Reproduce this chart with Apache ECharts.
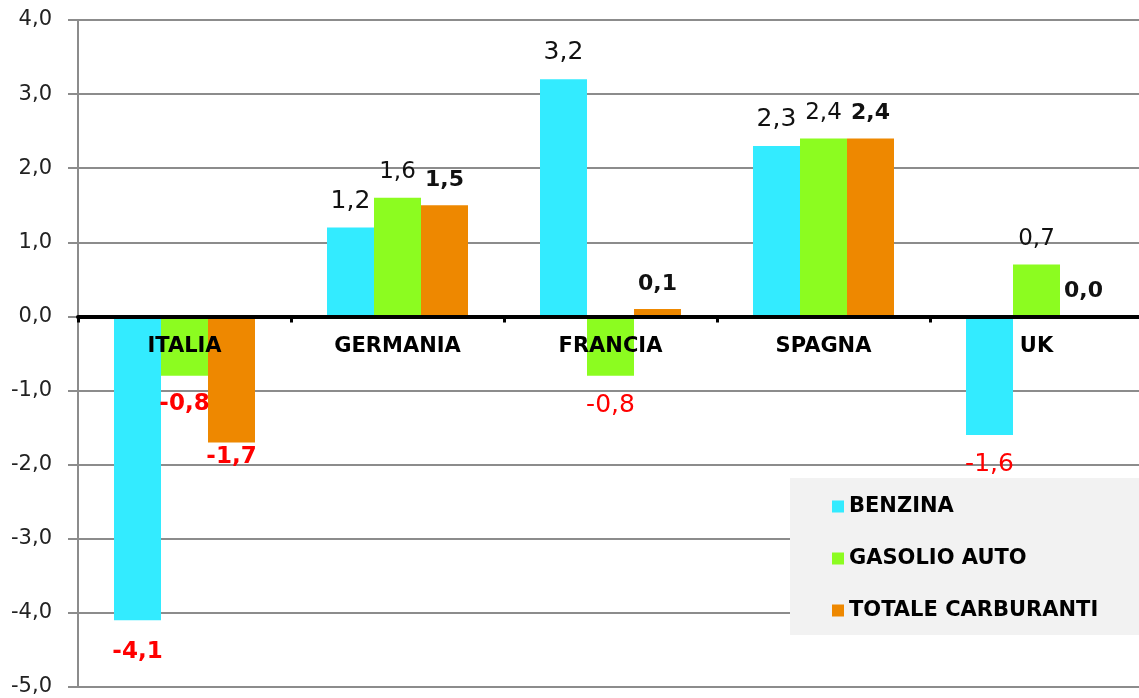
<!DOCTYPE html>
<html>
<head>
<meta charset="utf-8">
<script src="https://cdn.jsdelivr.net/npm/echarts@6/dist/echarts.min.js"></script>
<style>html,body{margin:0;padding:0;background:#fff}#c{width:1139px;height:698px}</style>
</head>
<body>
<div id="c"></div>
<script>
const categories = ['ITALIA', 'GERMANIA', 'FRANCIA', 'SPAGNA', 'UK'];
const seriesNames = ['BENZINA', 'GASOLIO AUTO', 'TOTALE CARBURANTI'];
const benzina = [-4.1, 1.2, 3.2, 2.3, -1.6];
const gasolio = [-0.8, 1.6, -0.8, 2.4, 0.7];
const totale = [-1.7, 1.5, 0.1, 2.4, 0.0];
const yTicks = [-5, -4, -3, -2, -1, 0, 1, 2, 3, 4];

const colors = ['#33ebff', '#8cfc20', '#ee8800'];
const FONT = 'DejaVu Sans';
const fmt = v => v.toFixed(1).replace('.', ',');

function makeData(values, sIdx) {
  return values.map((v, i) => {
    const italia = categories[i] === 'ITALIA';
    const bold = sIdx === 2 || italia;
    const neg = v < 0;
    let size;
    if (neg) size = bold ? 23 : 25;
    else size = bold ? 22 : (sIdx === 0 ? 25 : 23);
    let dist = neg ? 17 : 14;
    if (neg && sIdx === 2 && italia) dist = 3;
    if (neg && sIdx === 0 && italia) dist = 20;
    return {
      value: v,
      label: {
        show: true,
        position: neg ? 'bottom' : 'top',
        distance: dist,
        color: neg ? '#ff0000' : '#111',
        fontWeight: bold ? 'bold' : 'normal',
        fontSize: size,
        fontFamily: FONT,
        formatter: p => fmt(p.value)
      }
    };
  });
}

const chart = echarts.init(document.getElementById('c'));
chart.setOption({
  animation: false,
  color: colors,
  grid: { left: 78, top: 20, width: 1065, bottom: 11, containLabel: false, outerBoundsMode: 'none' },
  graphic: [{
    type: 'rect', left: 790, top: 478, z: 5,
    shape: { width: 349, height: 157 },
    style: { fill: '#f2f2f2' }
  }],
  legend: {
    orient: 'vertical', left: 827, top: 491, z: 6,
    icon: 'rect', itemWidth: 12, itemHeight: 12, itemGap: 31,
    textStyle: { fontFamily: FONT, fontWeight: 'bold', fontSize: 21, color: '#000' },
    data: seriesNames
  },
  xAxis: {
    type: 'category', data: categories, z: 10,
    axisLine: { onZero: true, lineStyle: { color: '#000', width: 4 } },
    axisTick: { show: true, length: 6, lineStyle: { color: '#000', width: 3 } },
    axisLabel: { show: false }
  },
  yAxis: {
    type: 'value', min: -5, max: 4, interval: 1,
    axisLine: { show: true, lineStyle: { color: '#8c8c8c', width: 2 } },
    axisTick: { show: true, length: 10, lineStyle: { color: '#8c8c8c', width: 2 } },
    splitLine: { lineStyle: { color: '#8c8c8c', width: 2 } },
    axisLabel: { margin: 26, fontFamily: FONT, fontSize: 21, color: '#222',
      formatter: v => fmt(v) }
  },
  series: [benzina, gasolio, totale].map((vals, k) => ({
    name: seriesNames[k], type: 'bar', barWidth: 47, barGap: '0%',
    data: makeData(vals, k)
  })).concat([{
    name: 'categorie', type: 'scatter', z: 10, symbolSize: 0, silent: true,
    itemStyle: { opacity: 1 },
    data: categories.map(c => [c, 0]),
    label: {
      show: true, position: 'bottom', distance: 20, opacity: 1,
      fontFamily: FONT, fontWeight: 'bold', fontSize: 21, color: '#000',
      textBorderWidth: 0,
      formatter: p => p.value[0]
    }
  }])
});
</script>
</body>
</html>
